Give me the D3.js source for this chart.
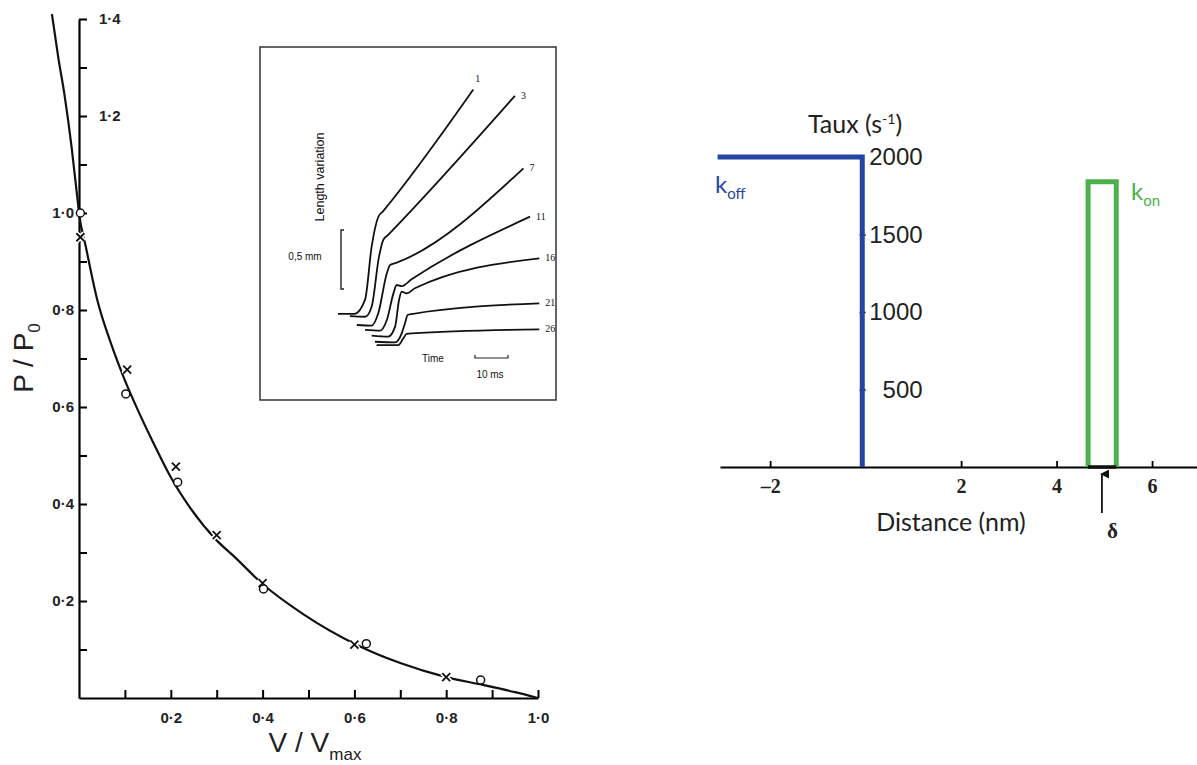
<!DOCTYPE html>
<html>
<head>
<meta charset="utf-8">
<script src="https://cdn.jsdelivr.net/npm/d3@7"></script>
<style>
body { margin: 0; background: #fff; }
svg { display: block; }
</style>
</head>
<body>
<svg width="1197" height="765"></svg>
<script>
// ---- Left chart: force / velocity (Hill) ----
var curveV = [-0.059, -0.045, -0.031, -0.016, -0.004, 0, 0.015, 0.04, 0.07, 0.1, 0.13, 0.16, 0.2, 0.24, 0.3, 0.34, 0.4, 0.49, 0.6, 0.7, 0.8, 0.88, 0.95, 1.0];
var curveP = [1.41, 1.32, 1.24, 1.135, 1.035, 1.0, 0.93, 0.82, 0.73, 0.655, 0.59, 0.53, 0.455, 0.395, 0.325, 0.29, 0.235, 0.172, 0.112, 0.072, 0.043, 0.027, 0.012, 0.0];
var crossV = [0.003, 0.105, 0.211, 0.3, 0.4, 0.6, 0.8];
var crossP = [0.95, 0.677, 0.477, 0.336, 0.237, 0.11, 0.043];
var circleV = [0.003, 0.102, 0.215, 0.402, 0.626, 0.875];
var circleP = [1.0, 0.627, 0.445, 0.225, 0.112, 0.037];
var leftXTicks = [0.1, 0.2, 0.3, 0.4, 0.5, 0.6, 0.7, 0.8, 0.9, 1.0];
var leftXLabels = [0.2, 0.4, 0.6, 0.8, 1.0];
var leftYTicks = [0.1, 0.2, 0.3, 0.4, 0.5, 0.6, 0.7, 0.8, 0.9, 1.0, 1.1, 1.2, 1.3, 1.4];
var leftYLabelsLow = [0.2, 0.4, 0.6, 0.8, 1.0];
var leftYLabelsHigh = [1.2, 1.4];

// ---- Inset: length traces (time ms, length mm) ----
var traceNames = ["1", "3", "7", "11", "16", "21", "26"];
var traceT = [
  [0, 5, 8.2, 10.2, 12.2, 13.7, 41],
  [3.6, 8.2, 10.2, 12.4, 13.7, 15.2, 53.6],
  [5.7, 10.2, 12.2, 14.8, 15.8, 17.8, 56.2],
  [8.2, 12.7, 14.8, 16.8, 17.8, 19.3, 22.3, 58.2],
  [10.2, 15.2, 17.3, 18.5, 19.3, 20.8, 23.3, 61],
  [11.2, 17.3, 19.3, 20.3, 21.1, 22.3, 61],
  [11.7, 18.3, 19.8, 20.8, 22.3, 61]
];
var traceL = [
  [0.29, 0.29, 0.41, 0.86, 1.11, 1.16, 2.19],
  [0.27, 0.265, 0.35, 0.77, 0.915, 0.958, 2.136],
  [0.195, 0.19, 0.294, 0.633, 0.703, 0.723, 1.523],
  [0.153, 0.147, 0.237, 0.463, 0.534, 0.525, 0.582, 1.113],
  [0.104, 0.096, 0.181, 0.407, 0.477, 0.463, 0.506, 0.76],
  [0.053, 0.048, 0.124, 0.209, 0.28, 0.288, 0.379],
  [0.025, 0.025, 0.082, 0.119, 0.124, 0.158]
];

// ---- Right chart: rates vs distance ----
var koffDist = [-3.1, -0.07, -0.07];
var koffRate = [2000, 2000, 0];
var konDist = [4.66, 4.66, 5.25, 5.25];
var konRate = [0, 1840, 1840, 0];
var deltaDist = 4.95;
var rightXTicks = [-2, 2, 4, 6];
var rightYTicks = [500, 1000, 1500, 2000];

var svg = d3.select("svg");
svg.append("rect").attr("width", 1197).attr("height", 765).attr("fill", "#fff");

var dot = function(d) { return d3.format(".1f")(d).replace(".", "\u00b7"); };

// ================= left chart =================
var x = d3.scaleLinear().domain([0, 1.0]).range([79, 538]);
var y = d3.scaleLinear().domain([0, 1.4]).range([698, 19]);
var left = svg.append("g").attr("font-family", "Liberation Sans, Arial, sans-serif");

// y axis, ticks inward
var yAx = left.append("g").attr("transform", "translate(" + x(0) + ",0)")
  .call(d3.axisRight(y).tickValues(leftYTicks).tickSize(8).tickSizeOuter(0).tickFormat(""));
yAx.select(".domain").attr("stroke-width", 2.2);
yAx.selectAll(".tick line").attr("stroke-width", 2);

var yLow = left.append("g").attr("transform", "translate(" + x(0) + ",0)")
  .call(d3.axisLeft(y).tickValues(leftYLabelsLow).tickSize(0).tickPadding(5).tickFormat(dot));
yLow.select(".domain").remove();
yLow.selectAll("text").attr("font-size", 15).attr("font-weight", "bold").attr("fill", "#222");

var yHigh = left.append("g").attr("transform", "translate(" + x(0) + ",0)")
  .call(d3.axisRight(y).tickValues(leftYLabelsHigh).tickSize(0).tickPadding(20).tickFormat(dot));
yHigh.select(".domain").remove();
yHigh.selectAll("text").attr("font-size", 15).attr("font-weight", "bold").attr("fill", "#222");

// x axis, ticks inward
var xAx = left.append("g").attr("transform", "translate(0," + y(0) + ")")
  .call(d3.axisBottom(x).tickValues(leftXTicks).tickSizeInner(-8).tickSizeOuter(0).tickPadding(14)
    .tickFormat(function(d) { return leftXLabels.some(function(v) { return Math.abs(v - d) < 1e-9; }) ? dot(d) : ""; }));
xAx.select(".domain").attr("stroke-width", 2.2);
xAx.selectAll(".tick line").attr("stroke-width", 2);
xAx.selectAll("text").attr("font-size", 15).attr("font-weight", "bold").attr("fill", "#222");

// curve
var curveData = curveV.map(function(v, i) { return [v, curveP[i]]; });
left.append("path")
  .datum(curveData)
  .attr("fill", "none")
  .attr("stroke", "#111")
  .attr("stroke-width", 2.2)
  .attr("d", d3.line().x(function(d) { return x(d[0]); }).y(function(d) { return y(d[1]); }).curve(d3.curveMonotoneX));

// crosses (white halo breaks the curve like the original)
var crossData = crossV.map(function(v, i) { return [v, crossP[i]]; });
var crossPath = "M-4,-4L4,4M-4,4L4,-4";
left.selectAll(".crossHalo").data(crossData).enter().append("path")
  .attr("d", crossPath)
  .attr("transform", function(d) { return "translate(" + x(d[0]) + "," + y(d[1]) + ")"; })
  .attr("stroke", "#fff").attr("stroke-width", 5);
left.selectAll(".cross").data(crossData).enter().append("path")
  .attr("d", crossPath)
  .attr("transform", function(d) { return "translate(" + x(d[0]) + "," + y(d[1]) + ")"; })
  .attr("stroke", "#111").attr("stroke-width", 1.8);

var circleData = circleV.map(function(v, i) { return [v, circleP[i]]; });
left.selectAll(".circ").data(circleData).enter().append("circle")
  .attr("cx", function(d) { return x(d[0]); })
  .attr("cy", function(d) { return y(d[1]); })
  .attr("r", 4)
  .attr("fill", "#fff")
  .attr("stroke", "#111")
  .attr("stroke-width", 1.5);

// axis titles
var yTitle = left.append("text")
  .attr("transform", "translate(33,358) rotate(-90)")
  .attr("text-anchor", "middle")
  .attr("font-size", 28)
  .attr("fill", "#222");
yTitle.append("tspan").text("P / P");
yTitle.append("tspan").attr("font-size", 17).attr("dy", 7).text("0");

var xTitle = left.append("text")
  .attr("x", 315).attr("y", 752)
  .attr("text-anchor", "middle")
  .attr("font-size", 28)
  .attr("fill", "#222");
xTitle.append("tspan").text("V / V");
xTitle.append("tspan").attr("font-size", 17).attr("dy", 8).text("max");

// ================= inset =================
var inset = svg.append("g").attr("font-family", "Liberation Sans, Arial, sans-serif");
inset.append("rect")
  .attr("x", 260).attr("y", 47).attr("width", 296).attr("height", 353)
  .attr("fill", "#fff").attr("stroke", "#333").attr("stroke-width", 1.5);

var tS = d3.scaleLinear().domain([0, 60]).range([338, 536]);
var lS = d3.scaleLinear().domain([0, 2.5]).range([348, 53]);
var traceLine = d3.line().x(function(d) { return tS(d[0]); }).y(function(d) { return lS(d[1]); }).curve(d3.curveMonotoneX);

traceNames.forEach(function(name, i) {
  var pts = traceT[i].map(function(t, j) { return [t, traceL[i][j]]; });
  inset.append("path")
    .datum(pts)
    .attr("fill", "none")
    .attr("stroke", "#111")
    .attr("stroke-width", 1.8)
    .attr("d", traceLine);
  var last = pts[pts.length - 1];
  inset.append("text")
    .attr("x", tS(last[0]) + (i == 0 ? 2 : 6))
    .attr("y", lS(last[1]) + (i == 0 ? -8 : 3))
    .attr("font-family", "Liberation Serif, serif")
    .attr("font-size", 10)
    .attr("fill", "#111")
    .text(name);
});

// scale bars
inset.append("path")
  .attr("d", "M" + (341 + 3) + "," + lS(1.0) + "H341V" + lS(0.5) + "H" + (341 + 3))
  .attr("fill", "none").attr("stroke", "#222").attr("stroke-width", 1.4);
inset.append("path")
  .attr("d", "M" + tS(41.5) + ",355V358H" + tS(51.5) + "V355")
  .attr("fill", "none").attr("stroke", "#222").attr("stroke-width", 1.2);

inset.append("text")
  .attr("transform", "translate(324,177) rotate(-90)")
  .attr("text-anchor", "middle").attr("font-size", 12.5).attr("fill", "#111")
  .text("Length variation");
inset.append("text").attr("x", 305).attr("y", 260).attr("text-anchor", "middle")
  .attr("font-size", 10).attr("fill", "#111").text("0,5 mm");
inset.append("text").attr("x", 433).attr("y", 362).attr("text-anchor", "middle")
  .attr("font-size", 10).attr("fill", "#111").text("Time");
inset.append("text").attr("x", 490).attr("y", 378).attr("text-anchor", "middle")
  .attr("font-size", 10).attr("fill", "#111").text("10 ms");

// ================= right chart =================
var rx = d3.scaleLinear().domain([-3.05, 7]).range([720, 1199.8]);
var ry = d3.scaleLinear().domain([0, 2000]).range([467, 157]);
var right = svg.append("g").attr("font-family", "Lato, Open Sans, sans-serif");

var rxAx = right.append("g").attr("transform", "translate(0," + ry(0) + ")")
  .call(d3.axisBottom(rx).tickValues(rightXTicks).tickSizeInner(-6).tickSizeOuter(0).tickPadding(12)
    .tickFormat(function(d) { return d < 0 ? "\u2013" + Math.abs(d) : d; }));
rxAx.select(".domain").attr("stroke-width", 2);
rxAx.selectAll(".tick line").attr("stroke-width", 1.8);
rxAx.selectAll("text").attr("font-family", "Liberation Serif, serif").attr("font-weight", "bold")
  .attr("font-size", 20).attr("fill", "#222");

var ryAx = right.append("g").attr("transform", "translate(" + rx(0) + ",0)")
  .call(d3.axisLeft(ry).tickValues(rightYTicks).tickSize(6).tickSizeOuter(0).tickFormat(d3.format("d")));
ryAx.select(".domain").remove();
ryAx.selectAll(".tick line").attr("stroke-width", 1.6)
  .filter(function(d) { return d == 2000; }).remove();
ryAx.selectAll("text").attr("x", 57).attr("text-anchor", "end")
  .attr("font-size", 24).attr("fill", "#222");

var rLine = d3.line().x(function(d) { return rx(d[0]); }).y(function(d) { return ry(d[1]); });

right.append("path")
  .datum(koffDist.map(function(d, i) { return [d, koffRate[i]]; }))
  .attr("fill", "none").attr("stroke", "#2545a3").attr("stroke-width", 5)
  .attr("stroke-linejoin", "miter")
  .attr("d", rLine);

right.append("path")
  .datum(konDist.map(function(d, i) { return [d, konRate[i]]; }))
  .attr("fill", "none").attr("stroke", "#4cb04c").attr("stroke-width", 5)
  .attr("stroke-linejoin", "miter")
  .attr("d", rLine);
right.append("line")
  .attr("x1", rx(konDist[0])).attr("x2", rx(konDist[3]))
  .attr("y1", ry(0)).attr("y2", ry(0))
  .attr("stroke", "#111").attr("stroke-width", 3.5);

// delta arrow
right.append("defs").append("marker")
  .attr("id", "head").attr("viewBox", "0 0 10 10").attr("refX", 5).attr("refY", 2)
  .attr("markerWidth", 9).attr("markerHeight", 9).attr("orient", "auto-start-reverse")
  .attr("markerUnits", "userSpaceOnUse")
  .append("path").attr("d", "M0,10L5,0L10,10Z").attr("fill", "#111");
right.append("line")
  .attr("x1", rx(deltaDist)).attr("x2", rx(deltaDist))
  .attr("y1", ry(0) + 46).attr("y2", ry(0) + 7)
  .attr("stroke", "#111").attr("stroke-width", 1.8)
  .attr("marker-end", "url(#head)");
right.append("text").attr("x", rx(deltaDist) + 5).attr("y", ry(0) + 71)
  .attr("font-family", "Liberation Serif, serif").attr("font-weight", "bold")
  .attr("font-size", 21).attr("fill", "#222").text("\u03b4");

// titles
var taux = right.append("text").attr("x", 855).attr("y", 133).attr("text-anchor", "middle")
  .attr("font-size", 25).attr("fill", "#222");
taux.append("tspan").text("Taux (s");
taux.append("tspan").attr("font-size", 14).attr("dy", -9).text("-1");
taux.append("tspan").attr("dy", 9).text(")");

right.append("text").attr("x", 951).attr("y", 531).attr("text-anchor", "middle")
  .attr("font-size", 25).attr("fill", "#222").text("Distance (nm)");

var koff = right.append("text").attr("x", 715).attr("y", 193).attr("fill", "#2545a3").attr("font-size", 24);
koff.append("tspan").text("k");
koff.append("tspan").attr("font-size", 15).attr("dy", 6).text("off");

var kon = right.append("text").attr("x", 1131).attr("y", 200).attr("fill", "#4cb04c").attr("font-size", 24);
kon.append("tspan").text("k");
kon.append("tspan").attr("font-size", 15).attr("dy", 6).text("on");
</script>
</body>
</html>
